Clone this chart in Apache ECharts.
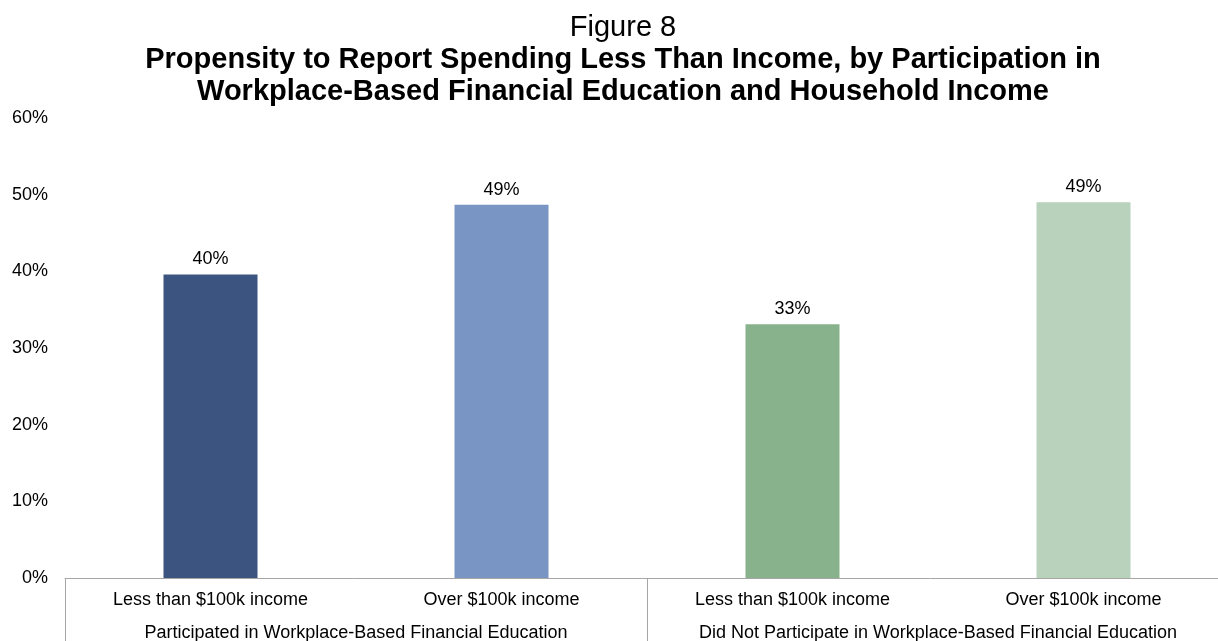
<!DOCTYPE html>
<html>
<head>
<meta charset="utf-8">
<script src="https://cdn.jsdelivr.net/npm/echarts@6/dist/echarts.min.js"></script>
<style>
  html, body { margin: 0; padding: 0; background: #fff; }
  #chart { width: 1218px; height: 641px; }
</style>
</head>
<body>
<div id="chart"></div>
<script>
// Income brackets (inner axis) and participation groups (outer axis)
const categories = [
  'Less than $100k income',
  'Over $100k income',
  'Less than $100k income',
  'Over $100k income'
];
const groups = [
  'Participated in Workplace-Based Financial Education',
  'Did Not Participate in Workplace-Based Financial Education'
];
// Share reporting spending less than income, percent
const values = [39.6, 48.7, 33.1, 49.0];
const barColors = ['#3B5580', '#7895C3', '#87B28C', '#B8D2BB'];
const yTicks = [0, 10, 20, 30, 40, 50, 60];

const titleLines = [
  'Figure 8',
  'Propensity to Report Spending Less Than Income, by Participation in',
  'Workplace-Based Financial Education and Household Income'
];

const FONT = 'Liberation Sans, Arial, sans-serif';
const TITLE_X = 623;

const chart = echarts.init(document.getElementById('chart'), null, { renderer: 'canvas' });

chart.setOption({
  backgroundColor: '#ffffff',
  animation: false,
  textStyle: { fontFamily: FONT },
  title: [
    {
      text: titleLines[0],
      left: TITLE_X,
      textAlign: 'center',
      top: 13,
      padding: 0,
      textStyle: { fontFamily: FONT, fontSize: 29, fontWeight: 'normal', color: '#000' }
    },
    {
      text: titleLines[1],
      left: TITLE_X,
      textAlign: 'center',
      top: 45,
      padding: 0,
      textStyle: { fontFamily: FONT, fontSize: 29, fontWeight: 'bold', color: '#000' }
    },
    {
      text: titleLines[2],
      left: TITLE_X,
      textAlign: 'center',
      top: 77,
      padding: 0,
      textStyle: { fontFamily: FONT, fontSize: 29, fontWeight: 'bold', color: '#000' }
    }
  ],
  grid: {
    left: 65,
    top: 118,
    width: 1164,
    bottom: 63,
    containLabel: false,
    outerBoundsMode: 'none'
  },
  xAxis: [
    {
      type: 'category',
      data: categories,
      position: 'bottom',
      axisLine: { show: true, lineStyle: { color: '#A6A6A6', width: 1 } },
      axisTick: { show: false },
      axisLabel: { interval: 0, margin: 13, fontSize: 18, color: '#000', fontFamily: FONT },
      splitLine: { show: false }
    },
    {
      type: 'category',
      data: groups,
      position: 'bottom',
      gridIndex: 0,
      axisLine: { show: false },
      axisTick: { show: true, length: 70, lineStyle: { color: '#A6A6A6', width: 1 } },
      axisLabel: { interval: 0, margin: 46, fontSize: 18, color: '#000', fontFamily: FONT },
      splitLine: { show: false }
    }
  ],
  yAxis: {
    type: 'value',
    min: yTicks[0],
    max: yTicks[yTicks.length - 1],
    interval: 10,
    axisLine: { show: false },
    axisTick: { show: false },
    splitLine: { show: false },
    axisLabel: {
      margin: 17,
      fontSize: 18,
      color: '#000',
      fontFamily: FONT,
      formatter: v => v + '%'
    }
  },
  series: [
    {
      type: 'bar',
      xAxisIndex: 0,
      barWidth: 94,
      data: values.map((v, i) => ({ value: v, itemStyle: { color: barColors[i] } })),
      label: {
        show: true,
        position: 'top',
        distance: 6,
        fontSize: 18,
        color: '#000',
        fontFamily: FONT,
        formatter: p => Math.round(p.value) + '%'
      }
    }
  ]
});
</script>
</body>
</html>
